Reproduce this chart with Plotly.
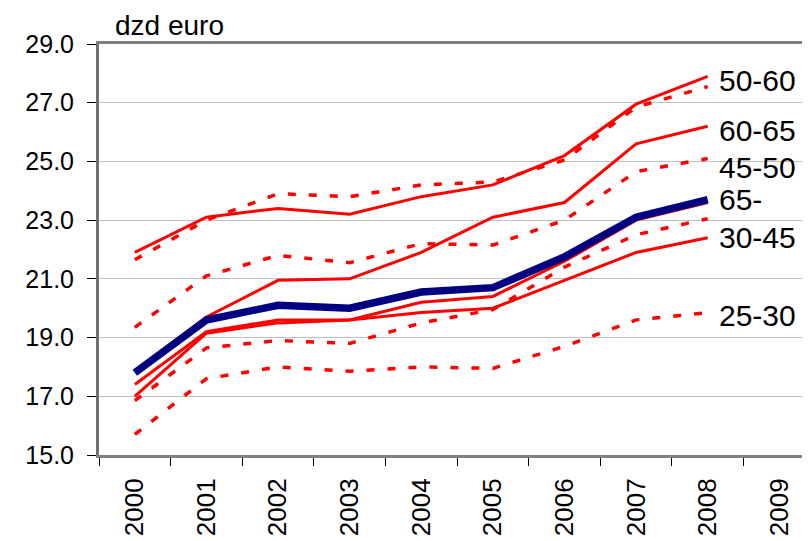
import plotly.graph_objects as go

years = [str(y) for y in range(2000, 2010)]
data_years = years[:9]

# solid red series
age_50_60 = [21.9, 23.1, 23.4, 23.2, 23.8, 24.2, 25.2, 26.95, 27.9]
age_60_65 = [17.85, 19.7, 20.95, 21.0, 21.9, 23.1, 23.6, 25.6, 26.2]
age_30_45 = [17.0, 19.15, 19.5, 19.6, 19.85, 20.0, 20.95, 21.9, 22.4]
solid_other = [17.4, 19.2, 19.6, 19.6, 20.2, 20.4, 21.6, 23.0, 23.6]

# dotted red series
dotted_top = [21.65, 23.0, 23.9, 23.8, 24.2, 24.3, 25.05, 26.85, 27.55]
age_45_50 = [19.35, 21.1, 21.8, 21.55, 22.2, 22.15, 23.0, 24.65, 25.1]
dotted_mid = [16.85, 18.65, 18.9, 18.8, 19.5, 19.95, 21.4, 22.5, 23.05]
age_25_30 = [15.7, 17.6, 18.0, 17.85, 18.0, 17.95, 18.7, 19.6, 19.85]

# thick navy series
age_65 = [17.8, 19.6, 20.1, 20.0, 20.55, 20.7, 21.75, 23.1, 23.7]

label_names = ["50-60", "60-65", "45-50", "65-", "30-45", "25-30"]
label_y = [27.75, 26.05, 24.8, 23.7, 22.4, 19.75]

RED = "#FF0000"
NAVY = "#000080"
FONT = "Liberation Sans, Arial, sans-serif"

fig = go.Figure()

for name, vals in [("dotted_top", dotted_top), ("45-50", age_45_50),
                   ("dotted_mid", dotted_mid), ("25-30", age_25_30)]:
    fig.add_trace(go.Scatter(x=data_years, y=vals, mode="lines", name=name,
                             line=dict(color=RED, width=3.5, dash="8px,13px")))

for name, vals in [("50-60", age_50_60), ("60-65", age_60_65),
                   ("30-45", age_30_45), ("other", solid_other)]:
    fig.add_trace(go.Scatter(x=data_years, y=vals, mode="lines", name=name,
                             line=dict(color=RED, width=3)))

fig.add_trace(go.Scatter(x=data_years, y=age_65, mode="lines", name="65-",
                         line=dict(color=NAVY, width=7.5)))

# labels sit just right of the last data point (category index 8)
last_idx = len(data_years) - 1
for txt, yv in zip(label_names, label_y):
    fig.add_annotation(x=last_idx, y=yv, xref="x", yref="y", text=txt,
                       showarrow=False, xanchor="left", yanchor="middle",
                       xshift=9, font=dict(family=FONT, size=30, color="black"))

fig.add_annotation(xref="paper", yref="paper", x=0.02, y=1, text="dzd euro",
                   showarrow=False, xanchor="left", yanchor="bottom", yshift=1,
                   font=dict(family=FONT, size=28, color="black"))

# the html body adds an 8px offset, margins compensate for it
fig.update_layout(
    width=810, height=541,
    margin=dict(l=91, r=0, t=36, b=94),
    plot_bgcolor="white", paper_bgcolor="white",
    showlegend=False,
    font=dict(family=FONT, size=25, color="black"),
)
fig.update_xaxes(
    type="category", categoryorder="array", categoryarray=years,
    range=[-0.5, 9.54], tickson="boundaries",
    ticks="outside", ticklen=8, tickcolor="black", tickwidth=1,
    tickangle=-90, showgrid=False, automargin=False, ticklabelstandoff=10,
    showline=True, linecolor="#808080", linewidth=3, mirror=True,
    tickfont=dict(family=FONT, size=26),
)
fig.update_yaxes(
    range=[15, 29], tick0=15, dtick=2, tickformat=".1f",
    ticks="outside", ticklen=9, tickcolor="black", tickwidth=1,
    showgrid=True, gridcolor="#C0C0C0", gridwidth=1, automargin=False,
    showline=True, linecolor="#707070", linewidth=3,
    zeroline=False, ticklabelstandoff=8,
    tickfont=dict(family=FONT, size=25),
)

fig.write_html("out.html")
